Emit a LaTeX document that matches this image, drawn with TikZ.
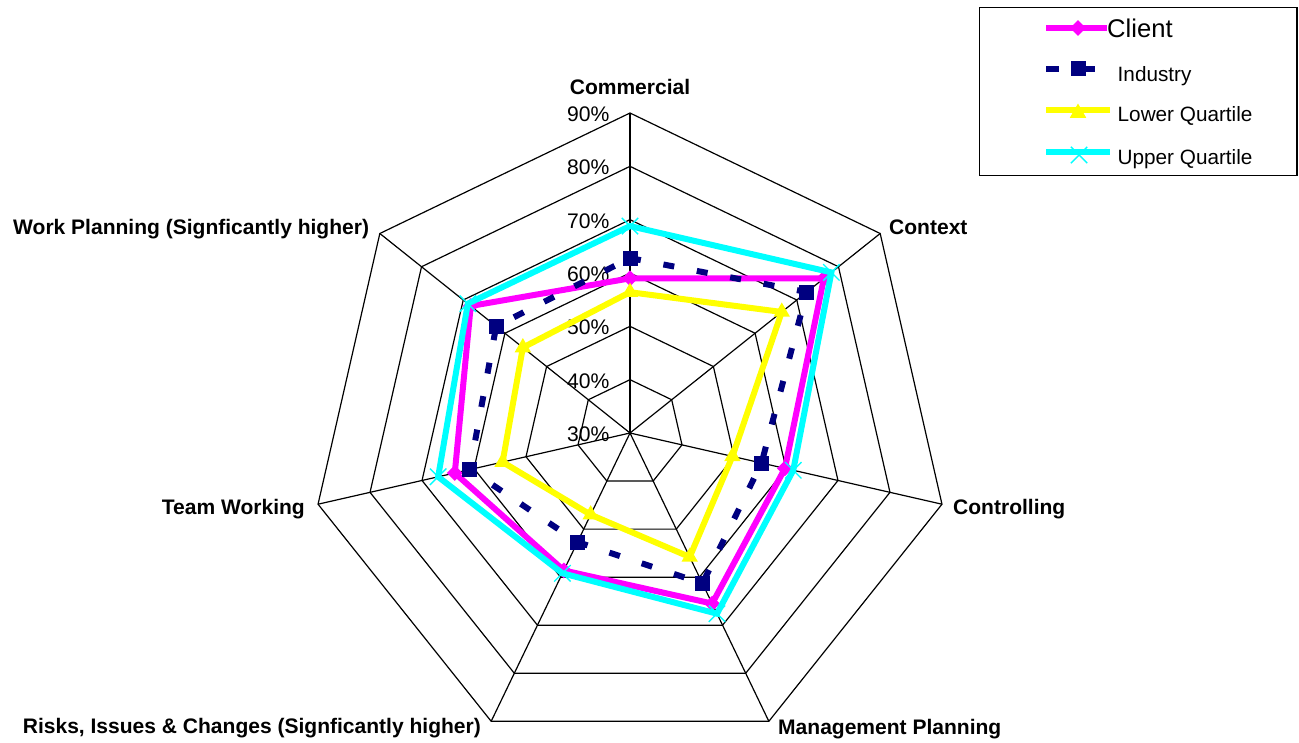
\documentclass[tikz,border=0pt]{standalone}
\usepackage{fontspec}
\setmainfont{Liberation Sans}
\usetikzlibrary{shapes.geometric,shapes.misc}
\definecolor{client}{RGB}{255,0,255}
\definecolor{industry}{RGB}{0,0,128}
\definecolor{lowq}{RGB}{255,255,0}
\definecolor{upq}{RGB}{0,255,255}
\newcommand\mkseries[2]{%
  \foreach \v [count=\i from 0] in {#2}
    \coordinate (#1\i) at ({630+(\v-30)*5.3333*sin(\i*360/7)},{433-(\v-30)*5.3333*cos(\i*360/7)});}
\begin{document}
\begin{tikzpicture}[x=1bp,y=-1bp,
  grid/.style={black,line width=1.2bp},
  axislab/.style={font=\fontsize{21.1}{24}\selectfont\bfseries,inner sep=0pt},
  pctlab/.style={font=\fontsize{21.2}{24}\selectfont,anchor=base east,inner sep=0pt},
  leglab/.style={font=\fontsize{20.8}{24}\selectfont,anchor=base west,inner sep=0pt},
  series/.style={line width=6bp,line join=miter},
  dmark/.style={diamond,fill=client,minimum width=16bp,minimum height=16bp,inner sep=0pt},
  smark/.style={rectangle,fill=industry,minimum size=15bp,inner sep=0pt},
  tmark/.style={regular polygon,regular polygon sides=3,fill=lowq,minimum size=19bp,inner sep=0pt},
  xmark/.style={cross out,draw=upq,line width=1.4bp,minimum size=15bp,inner sep=0pt},
  navydash/.style={dash pattern=on 11bp off 23bp}]
\useasboundingbox (0,0) rectangle (1299,742);
\coordinate (ctr) at (630,433);
\foreach \i in {0,...,6}
  \coordinate (v\i) at ({630+320*sin(\i*360/7)},{433-320*cos(\i*360/7)});
% rings
\foreach \k in {1,...,6}
  \draw[grid] (630,{433-53.333*\k}) \foreach \i in {1,...,6} { -- ({630+53.333*\k*sin(\i*360/7)},{433-53.333*\k*cos(\i*360/7)}) } -- cycle;
% spokes
\foreach \i in {0,...,6} \draw[grid] (ctr) -- (v\i);
% percent labels
\foreach \p [count=\k from 0] in {30,40,...,90}
  \node[pctlab] (pct\p) at (609.5,{433-53.333*\k+8.5}) {\p\%};
% axis labels
\node[axislab,anchor=base] (lCom) at (630,94) {Commercial};
\node[axislab,anchor=base west] (lCon) at (889,234.5) {Context};
\node[axislab,anchor=base west] (lCtl) at (953,514) {Controlling};
\node[axislab,anchor=base west] (lMgt) at (778,734) {Management Planning};
\node[axislab,anchor=base west] (lRsk) at (22.7,733) {Risks, Issues \& Changes (Signficantly higher)};
\node[axislab,anchor=base east] (lTeam) at (305,514) {Team Working};
\node[axislab,anchor=base west] (lWork) at (13,234.3) {Work Planning (Signficantly higher)};
% data
\mkseries{cl}{59.0,76.5,59.8,65.5,58.6,63.7,68.2}
\mkseries{in}{62.8,72.4,55.3,61.3,52.7,60.8,62.1}
\mkseries{lo}{56.4,66.4,49.7,55.8,47.0,54.5,55.7}
\mkseries{up}{68.8,78.3,61.4,67.6,59.2,66.9,68.9}
\draw[series,client] (cl0)--(cl1)--(cl2)--(cl3)--(cl4)--(cl5)--(cl6)--cycle;
\foreach \i in {0,...,6} \node[dmark] (clm\i) at (cl\i) {};
\draw[series,industry,navydash] (in0)--(in1)--(in2)--(in3)--(in4)--(in5)--(in6)--cycle;
\foreach \i in {0,...,6} \node[smark] (inm\i) at (in\i) {};
\draw[series,lowq] (lo0)--(lo1)--(lo2)--(lo3)--(lo4)--(lo5)--(lo6)--cycle;
\foreach \i in {0,...,6} \node[tmark] (lom\i) at (lo\i) {};
\draw[series,upq] (up0)--(up1)--(up2)--(up3)--(up4)--(up5)--(up6)--cycle;
\foreach \i in {0,...,6} \node[xmark] (upm\i) at (up\i) {};
% legend
\node[draw=black,line width=1.2bp,minimum width=317.5bp,minimum height=168bp,inner sep=0pt] (legend) at (1138.25,91.5) {};
\coordinate (lg1a) at (1046,28); \coordinate (lg1b) at (1107,28);
\draw[series,client] (lg1a) -- (lg1b);
\node[dmark] (lg1m) at (1078,28) {};
\node[anchor=base west,inner sep=0pt,font=\fontsize{25.7}{28}\selectfont] (lg1t) at (1107,37.3) {Client};
\coordinate (lg2a) at (1046,68.5); \coordinate (lg2b) at (1110,68.5);
\draw[series,industry,dash pattern=on 13bp off 12bp on 24bp off 30bp] (lg2a) -- (lg2b);
\node[smark] (lg2m) at (1078,68.5) {};
\node[leglab] (lg2t) at (1117.5,81.5) {Industry};
\coordinate (lg3a) at (1046,110.3); \coordinate (lg3b) at (1110,110.3);
\draw[series,lowq] (lg3a) -- (lg3b);
\node[tmark] (lg3m) at (1078,113) {};
\node[leglab] (lg3t) at (1117.5,121.5) {Lower Quartile};
\coordinate (lg4a) at (1046,151.7); \coordinate (lg4b) at (1110,151.7);
\draw[series,upq] (lg4a) -- (lg4b);
\node[xmark] (lg4m) at (1079,155) {};
\node[leglab] (lg4t) at (1117.5,164.3) {Upper Quartile};
\end{tikzpicture}
\end{document}
